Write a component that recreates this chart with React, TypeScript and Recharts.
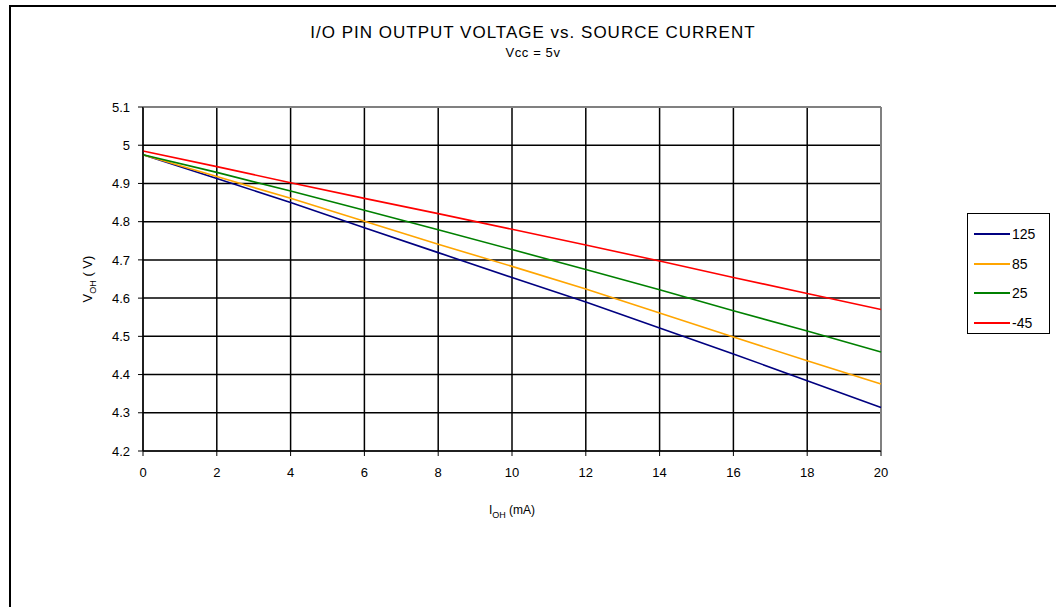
import { CartesianGrid, Legend, Line, LineChart, ReferenceLine, XAxis, YAxis } from "recharts";

const currents = [0, 2, 4, 6, 8, 10, 12, 14, 16, 18, 20];
const v125 = [4.975, 4.913, 4.85, 4.784, 4.719, 4.654, 4.59, 4.522, 4.454, 4.384, 4.314];
const v85 = [4.975, 4.918, 4.861, 4.801, 4.741, 4.683, 4.624, 4.561, 4.498, 4.436, 4.375];
const v25 = [4.975, 4.929, 4.88, 4.83, 4.779, 4.727, 4.675, 4.622, 4.567, 4.514, 4.459];
const vm45 = [4.985, 4.944, 4.902, 4.861, 4.821, 4.78, 4.739, 4.697, 4.654, 4.612, 4.57];

const xTicks = [0, 2, 4, 6, 8, 10, 12, 14, 16, 18, 20];
const yTicks = [4.2, 4.3, 4.4, 4.5, 4.6, 4.7, 4.8, 4.9, 5, 5.1];

const series = [
  { key: "t125", name: "125", color: "#000080", values: v125 },
  { key: "t85", name: "85", color: "#FFA500", values: v85 },
  { key: "t25", name: "25", color: "#008000", values: v25 },
  { key: "tm45", name: "-45", color: "#FF0000", values: vm45 },
];

const rows = currents.map((c, i) => {
  const r: Record<string, number> = { ioh: c };
  series.forEach((s) => (r[s.key] = s.values[i]));
  return r;
});

const font = "'Liberation Sans', Arial, sans-serif";

function LegendBox() {
  return (
    <div
      style={{
        border: "1px solid #000",
        background: "#fff",
        width: 83,
        height: 121,
        boxSizing: "border-box",
        paddingTop: 5,
        fontFamily: font,
        fontSize: 14,
      }}
    >
      {series.map((s) => (
        <div key={s.key} style={{ display: "flex", alignItems: "center", height: 29.7 }}>
          <div style={{ width: 36, height: 2, background: s.color, marginLeft: 6, marginRight: 2 }} />
          <span>{s.name}</span>
        </div>
      ))}
    </div>
  );
}

export default function App() {
  return (
    <div style={{ position: "relative", width: 1056, height: 607, overflow: "hidden" }}>
      <style>{"body{margin:0;overflow:hidden}"}</style>
      <div
        style={{
          position: "absolute",
          left: 10,
          top: 0,
          width: 1046,
          textAlign: "center",
          fontFamily: font,
          color: "#000",
        }}
      >
        <div style={{ fontSize: 17, letterSpacing: 1, marginTop: 23 }}>I/O PIN OUTPUT VOLTAGE vs. SOURCE CURRENT</div>
        <div style={{ fontSize: 13, letterSpacing: 0.6, marginTop: 2 }}>Vcc = 5v</div>
      </div>
      <div style={{ position: "absolute", left: 0, top: 0 }}>
        <LineChart
          width={1056}
          height={607}
          data={rows}
          margin={{ top: 107, right: 92, bottom: 126, left: 83 }}
          style={{ fontFamily: font }}
        >
          <CartesianGrid stroke="#000" strokeWidth={1.5} horizontalValues={yTicks} verticalValues={xTicks} />
          <XAxis
            dataKey="ioh"
            type="number"
            domain={[0, 20]}
            ticks={xTicks}
            height={30}
            tickSize={5}
            tickMargin={12}
            stroke="#000"
            tick={{ fill: "#000", fontSize: 13 }}
            label={() => (
              <text x={512} y={514} textAnchor="middle" fontSize={12} fill="#000" fontFamily={font}>
                I<tspan fontSize={9} dy={4}>OH</tspan>
                <tspan dy={-4}> (mA)</tspan>
              </text>
            )}
          />
          <YAxis
            type="number"
            domain={[4.2, 5.1]}
            ticks={yTicks}
            width={60}
            tickSize={5}
            tickMargin={8}
            stroke="#000"
            tick={{ fill: "#000", fontSize: 13 }}
            tickFormatter={(v: number) => String(Math.round(v * 10) / 10)}
            label={() => (
              <text
                x={92}
                y={279}
                transform="rotate(-90, 92, 279)"
                textAnchor="middle"
                fontSize={13}
                fill="#000"
                fontFamily={font}
              >
                V<tspan fontSize={9} dy={4}>OH</tspan>
                <tspan dy={-4}> ( V)</tspan>
              </text>
            )}
          />
          <ReferenceLine y={5.1} stroke="#808080" strokeWidth={2} />
          <ReferenceLine x={20} stroke="#808080" strokeWidth={2} />
          {series.map((s) => (
            <Line
              key={s.key}
              type="linear"
              dataKey={s.key}
              name={s.name}
              stroke={s.color}
              strokeWidth={1.6}
              dot={false}
              activeDot={false}
              isAnimationActive={false}
            />
          ))}
          <Legend
            layout="horizontal"
            verticalAlign="middle"
            align="right"
            content={() => <LegendBox />}
            wrapperStyle={{ left: 967, top: 213, width: 83, right: "auto", bottom: "auto" }}
          />
        </LineChart>
      </div>
      <div
        style={{
          position: "absolute",
          left: 9,
          top: 5,
          width: 1045,
          height: 600,
          borderLeft: "2px solid #000",
          borderTop: "2px solid #000",
          pointerEvents: "none",
        }}
      />
    </div>
  );
}
